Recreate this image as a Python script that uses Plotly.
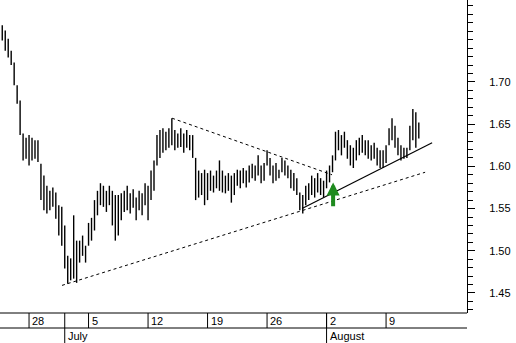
import plotly.graph_objects as go

# ---- data ----
# trading-day index: 0 = Mon 28 Jun 1999; bars are quarter-day bars starting Thu 24 Jun
start_day = -2.25
bar_step = 0.25

highs = [1.767, 1.761, 1.751, 1.737, 1.723, 1.696, 1.678, 1.639, 1.634, 1.637,
         1.634, 1.631, 1.631, 1.603, 1.589, 1.577, 1.571, 1.575, 1.569, 1.554,
         1.552, 1.530, 1.494, 1.491, 1.542, 1.512, 1.512, 1.518, 1.506, 1.533,
         1.539, 1.560, 1.571, 1.580, 1.577, 1.571, 1.577, 1.571, 1.566, 1.566,
         1.568, 1.571, 1.577, 1.568, 1.573, 1.563, 1.571, 1.568, 1.580, 1.577,
         1.595, 1.607, 1.637, 1.643, 1.645, 1.641, 1.645, 1.657, 1.643, 1.639,
         1.645, 1.639, 1.643, 1.637, 1.637, 1.610, 1.595, 1.592, 1.596, 1.592,
         1.595, 1.589, 1.595, 1.607, 1.595, 1.589, 1.592, 1.589, 1.592, 1.596,
         1.595, 1.598, 1.595, 1.601, 1.603, 1.601, 1.613, 1.601, 1.604, 1.619,
         1.610, 1.601, 1.604, 1.596, 1.610, 1.607, 1.601, 1.596, 1.592, 1.586,
         1.569, 1.566, 1.577, 1.580, 1.589, 1.586, 1.592, 1.586, 1.583, 1.595,
         1.601, 1.613, 1.641, 1.643, 1.637, 1.641, 1.631, 1.625, 1.622, 1.631,
         1.634, 1.637, 1.631, 1.631, 1.625, 1.628, 1.622, 1.619, 1.619, 1.625,
         1.645, 1.657, 1.648, 1.634, 1.625, 1.622, 1.622, 1.648, 1.668, 1.664,
         1.652]
lows = [1.749, 1.737, 1.729, 1.720, 1.696, 1.674, 1.637, 1.607, 1.609, 1.601,
        1.607, 1.609, 1.605, 1.560, 1.548, 1.544, 1.548, 1.552, 1.538, 1.518,
        1.506, 1.479, 1.461, 1.465, 1.467, 1.462, 1.486, 1.494, 1.486, 1.506,
        1.512, 1.524, 1.542, 1.554, 1.552, 1.546, 1.554, 1.530, 1.512, 1.518,
        1.536, 1.546, 1.548, 1.544, 1.551, 1.536, 1.548, 1.542, 1.554, 1.536,
        1.560, 1.571, 1.601, 1.610, 1.616, 1.619, 1.622, 1.625, 1.619, 1.622,
        1.623, 1.616, 1.622, 1.619, 1.610, 1.560, 1.563, 1.566, 1.554, 1.560,
        1.571, 1.569, 1.574, 1.571, 1.569, 1.568, 1.571, 1.557, 1.566, 1.577,
        1.574, 1.580, 1.575, 1.581, 1.586, 1.583, 1.589, 1.580, 1.583, 1.601,
        1.589, 1.580, 1.583, 1.586, 1.593, 1.589, 1.586, 1.574, 1.571, 1.566,
        1.548, 1.544, 1.554, 1.560, 1.566, 1.563, 1.569, 1.566, 1.563, 1.574,
        1.581, 1.593, 1.607, 1.619, 1.613, 1.622, 1.609, 1.601, 1.598, 1.607,
        1.613, 1.616, 1.613, 1.609, 1.607, 1.609, 1.601, 1.598, 1.598, 1.604,
        1.625, 1.631, 1.622, 1.613, 1.607, 1.609, 1.610, 1.619, 1.631, 1.622,
        1.633]

# trend lines: (day, price) end points
trend_lower = [(2.77, 1.459), (33.28, 1.593)]
trend_upper = [(12.02, 1.657), (25.46, 1.590)]
trend_support = [(22.94, 1.550), (33.87, 1.628)]
arrow_day = 25.55
arrow_tail = 1.551
arrow_tip = 1.581

# date strip
week_days = [0, 5, 10, 15, 20, 25, 30]
week_labels = ["28", "5", "12", "19", "26", "2", "9"]
month_days = [3, 25]
month_labels = ["July", "August"]

y_ticks = [1.45, 1.50, 1.55, 1.60, 1.65, 1.70]
y_ticktext = ["1.45", "1.50", "1.55", "1.60", "1.65", "1.70"]

x_range = [-2.44, 36.8]
y_range = [1.4263, 1.797]

# ---- build ----
bx, by = [], []
for i, (h, l) in enumerate(zip(highs, lows)):
    d = start_day + bar_step * i
    bx += [d, d, None]
    by += [h, l, None]

fig = go.Figure()
fig.add_trace(go.Scatter(x=bx, y=by, mode="lines",
                         line=dict(color="black", width=1.4),
                         hoverinfo="skip", showlegend=False))

for pts, dash, w in [(trend_lower, "3px,3px", 1), (trend_upper, "3px,3px", 1),
                     (trend_support, "solid", 1.2)]:
    fig.add_trace(go.Scatter(x=[p[0] for p in pts], y=[p[1] for p in pts],
                             mode="lines", line=dict(color="black", width=w, dash=dash),
                             hoverinfo="skip", showlegend=False))

fig.add_annotation(x=arrow_day, y=arrow_tip, ax=arrow_day, ay=arrow_tail,
                   xref="x", yref="y", axref="x", ayref="y", text="",
                   showarrow=True, arrowhead=2, arrowsize=0.65, arrowwidth=4,
                   arrowcolor="#1e8a1e")

shapes = []
# horizontal lines of the date strip
for yp in [0, -15 / 313]:
    shapes.append(dict(type="line", xref="paper", yref="paper", x0=0, x1=1,
                       y0=yp, y1=yp, line=dict(color="black", width=1)))
# week separators (top row) + month separators
for d in week_days + month_days:
    shapes.append(dict(type="line", xref="x", yref="paper", x0=d, x1=d,
                       y0=0, y1=-15 / 313, line=dict(color="black", width=1)))
for d in month_days:
    shapes.append(dict(type="line", xref="x", yref="paper", x0=d, x1=d,
                       y0=-15 / 313, y1=-30 / 313, line=dict(color="black", width=1)))
fig.update_layout(shapes=shapes)

font = dict(family="Liberation Sans, Arial, sans-serif", size=11, color="black")
for d, t in zip(week_days, week_labels):
    fig.add_annotation(x=d, y=-7.5 / 313, xref="x", yref="paper", text=t,
                       showarrow=False, xanchor="left", yanchor="middle",
                       xshift=1, font=font)
for d, t in zip(month_days, month_labels):
    fig.add_annotation(x=d, y=-22.5 / 313, xref="x", yref="paper", text=t,
                       showarrow=False, xanchor="left", yanchor="middle",
                       xshift=1, font=font)

fig.update_layout(
    width=516, height=343,
    margin=dict(l=0, r=49, t=0, b=30),
    paper_bgcolor="white", plot_bgcolor="white",
    xaxis=dict(range=x_range, showgrid=False, zeroline=False, showticklabels=False,
               ticks="", showline=False),
    yaxis=dict(range=y_range, side="right", showgrid=False, zeroline=False,
               showline=True, linecolor="black", linewidth=1,
               tickvals=y_ticks, ticktext=y_ticktext, ticks="outside",
               ticklen=7, tickcolor="black", tickfont=font,
               ticklabelstandoff=12,
               minor=dict(dtick=0.01, tick0=1.45, ticks="outside", ticklen=5,
                          tickcolor="black")),
)

fig.write_html("out.html")
